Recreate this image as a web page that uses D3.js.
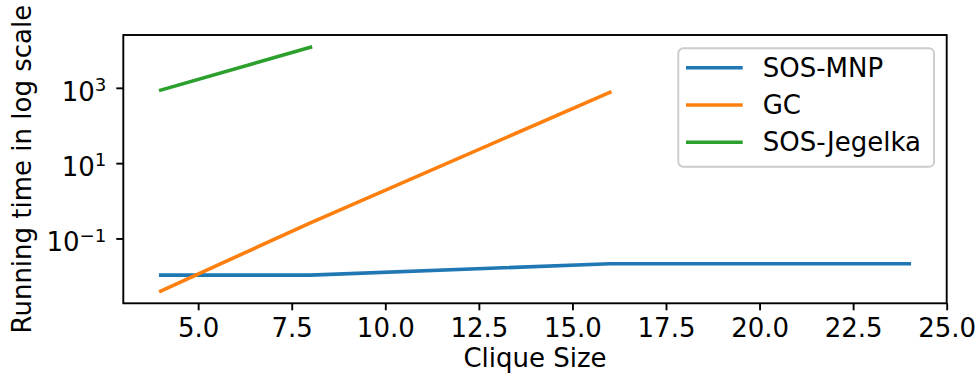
<!DOCTYPE html>
<html>
<head>
<meta charset="utf-8">
<script src="https://cdn.jsdelivr.net/npm/d3@7"></script>
<style>
  body { margin: 0; background: #fff; }
  text { font-family: 'DejaVu Sans', sans-serif; fill: #000; }
</style>
</head>
<body>
<div id="chart"></div>
<script>
// data
const cliqueSizes = [4, 8, 16, 24];
const sosMnp = [0.0106, 0.0106, 0.0213, 0.0213];
const gcSizes = [4, 8, 16];
const gc = [0.0040, 0.26, 760];
const jegelkaSizes = [4, 8];
const sosJegelka = [870, 12000];
const xTicks = [5, 7.5, 10, 12.5, 15, 17.5, 20, 22.5, 25];
const yTickExps = [-1, 1, 3];

const series = [
  { name: 'SOS-MNP', xs: cliqueSizes, ys: sosMnp, color: '#1f77b4' },
  { name: 'GC', xs: gcSizes, ys: gc, color: '#ff7f0e' },
  { name: 'SOS-Jegelka', xs: jegelkaSizes, ys: sosJegelka, color: '#2ca02c' },
];

const W = 979, H = 380;
const margin = { top: 35, right: 32.3, bottom: 76.7, left: 123.3 };
const width = W - margin.left - margin.right;
const height = H - margin.top - margin.bottom;
const fs = 26;

const svg = d3.select('#chart')
  .append('svg')
  .attr('width', W)
  .attr('height', H);

const g = svg.append('g')
  .attr('transform', `translate(${margin.left},${margin.top})`);

// x: data range plus 5% each side, like matplotlib
const allX = series.flatMap(s => s.xs);
const [x0, x1] = d3.extent(allX);
const xPad = (x1 - x0) * 0.05;
const x = d3.scaleLinear().domain([x0 - xPad, x1 + xPad]).range([0, width]);

// y: log, padded 5% in log space
const allY = series.flatMap(s => s.ys);
const l0 = Math.log10(d3.min(allY)), l1 = Math.log10(d3.max(allY));
const lPad = (l1 - l0) * 0.05;
const y = d3.scaleLog().domain([10 ** (l0 - lPad), 10 ** (l1 + lPad)]).range([height, 0]);

// lines
const line = d3.line().x(d => x(d[0])).y(d => y(d[1]));
series.forEach(s => {
  g.append('path')
    .datum(d3.zip(s.xs, s.ys))
    .attr('d', line)
    .attr('fill', 'none')
    .attr('stroke', s.color)
    .attr('stroke-width', 3.6)
    .attr('stroke-linecap', 'square');
});

// x axis
const xAxis = g.append('g')
  .attr('transform', `translate(0,${height})`)
  .call(d3.axisBottom(x).tickValues(xTicks).tickFormat(d3.format('.1f')).tickSize(7).tickPadding(8));
xAxis.select('.domain').remove();
xAxis.selectAll('line').attr('stroke', '#000').attr('stroke-width', 1.9);
xAxis.selectAll('text').style('font-size', fs + 'px').attr('fill', '#000');

// y axis
const yAxis = g.append('g')
  .call(d3.axisLeft(y).tickValues(yTickExps.map(e => 10 ** e)).tickFormat('').tickSize(7));
yAxis.select('.domain').remove();
yAxis.selectAll('line').attr('stroke', '#000').attr('stroke-width', 1.9);

yAxis.selectAll('.tick').each(function (d) {
  const e = Math.round(Math.log10(d));
  const t = d3.select(this).append('text')
    .attr('x', -17)
    .attr('y', 12.5)
    .attr('text-anchor', 'end')
    .style('font-size', fs + 'px');
  t.append('tspan').text('10');
  t.append('tspan')
    .attr('dy', -9.7)
    .style('font-size', (fs * 0.7) + 'px')
    .text(e < 0 ? '\u2212' + Math.abs(e) : String(e));
});

// frame
g.append('rect')
  .attr('width', width)
  .attr('height', height)
  .attr('fill', 'none')
  .attr('stroke', '#000')
  .attr('stroke-width', 1.9);

// axis labels
svg.append('text')
  .attr('x', margin.left + width / 2)
  .attr('y', 367)
  .attr('text-anchor', 'middle')
  .style('font-size', fs + 'px')
  .text('Clique Size');

svg.append('text')
  .attr('transform', `translate(30.5,${margin.top + height / 2}) rotate(-90)`)
  .attr('text-anchor', 'middle')
  .style('font-size', fs + 'px')
  .text('Running time in log scale');

// legend
const legend = svg.append('g').attr('transform', 'translate(678.3,48.3)');
legend.append('rect')
  .attr('width', 255.7)
  .attr('height', 118.4)
  .attr('rx', 5)
  .attr('fill', 'rgba(255,255,255,0.8)')
  .attr('stroke', '#cccccc')
  .attr('stroke-width', 1.9);

series.forEach((s, i) => {
  const ly = 19.4 + i * 37.3;
  legend.append('line')
    .attr('x1', 7.7).attr('x2', 64.4)
    .attr('y1', ly).attr('y2', ly)
    .attr('stroke', s.color)
    .attr('stroke-width', 3.6);
  legend.append('text')
    .attr('x', 84.4)
    .attr('y', ly + 9)
    .style('font-size', fs + 'px')
    .text(s.name);
});
</script>
</body>
</html>
